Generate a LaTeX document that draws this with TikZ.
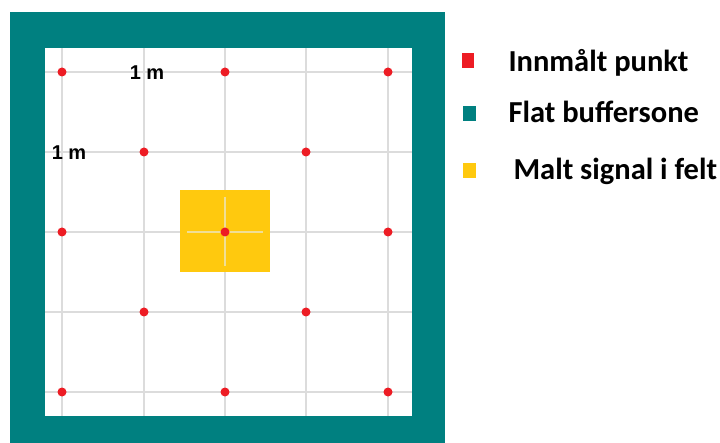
\documentclass[tikz,border=0pt]{standalone}
\usepackage{fontspec}
\setmainfont{Carlito}
\newfontfamily\labelfont{Liberation Sans}
\usetikzlibrary{positioning}
\definecolor{buffer}{RGB}{0,128,128}
\definecolor{punkt}{RGB}{237,28,36}
\definecolor{signal}{RGB}{255,201,14}
\definecolor{rutenett}{RGB}{220,220,220}
\definecolor{kryss}{RGB}{240,222,150}

\tikzset{
  punktdot/.style={circle,fill=punkt,inner sep=0pt,minimum size=9pt},
  legbox/.style={rectangle,inner sep=0pt,minimum width=12.5pt,minimum height=15pt},
  legtext/.style={anchor=base west,font=\bfseries\fontsize{30.5}{36}\selectfont},
  malelabel/.style={font=\labelfont\bfseries\fontsize{20}{24}\selectfont}
}

\begin{document}
\begin{tikzpicture}[x=1pt,y=-1pt]
    \useasboundingbox (0,0) rectangle (720,443);
    % buffer zone and field
    \fill[buffer] (9.5,12) rectangle (444.5,443);
    \fill[white] (45,48.5) rectangle (411.5,416);
    \foreach \gx/\gy in {62/72,144/152,225/232,306/312,388/392} {
      \draw[rutenett,line width=1.2pt] (\gx,48.5) -- (\gx,416);
      \draw[rutenett,line width=1.2pt] (45,\gy) -- (411.5,\gy);
    }
    % painted signal
    \fill[signal] (180,190.5) rectangle (270,272.5);
    \draw[kryss,line width=1.2pt] (187,232) -- (263,232);
    \draw[kryss,line width=1.2pt] (225,197) -- (225,266);
    % measured points
    \foreach \px/\py [count=\i] in {62/72,225/72,388/72,144/152,306/152,
        62/232,225/232,388/232,144/312,306/312,62/392,225/392,388/392}
      \node[punktdot] (p\i) at (\px,\py) {};
    \node[malelabel] (m-x) at (147,73) {1 m};
    \node[malelabel] (m-y) at (69,153) {1 m};
    % legend
    \node[legbox,fill=punkt] (leg-punkt) at (468,60.5) {};
    \node[legbox,fill=buffer] (leg-buffer) at (469.5,114) {};
    \node[legbox,fill=signal] (leg-signal) at (469.5,170.5) {};
    \node[legtext] (txt-punkt) at (505,72) {Innmålt punkt};
    \node[legtext] (txt-buffer) at (505,123) {Flat buffersone};
    \node[legtext] (txt-signal) at (510,180) {Malt signal i felt};
\end{tikzpicture}
\end{document}
